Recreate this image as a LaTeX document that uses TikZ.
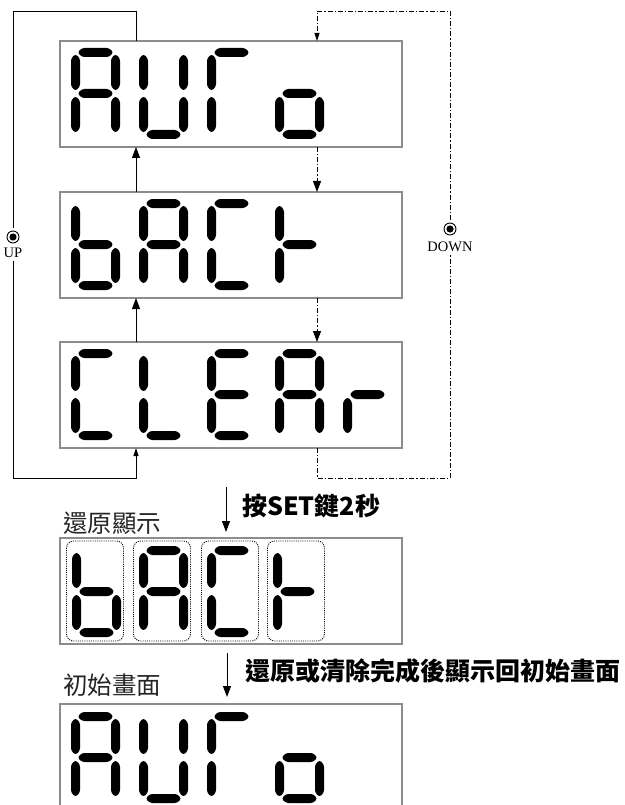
\documentclass[tikz,border=0pt]{standalone}
\usepackage{fontspec}
\newfontfamily\cjk{Noto Sans CJK TC}
\newfontfamily\serifl{Liberation Serif}
\usetikzlibrary{arrows.meta}
% seven-segment helpers (local units: x=1pt, y=-1pt, origin = digit top-left)
\newcommand{\HSegm}[1]{\fill[segfill] (6.5,#1+4.5) -- (11,#1) -- (38,#1) -- (42.5,#1+4.5) -- (38,#1+9) -- (11,#1+9) -- cycle;}
\newcommand{\VSegm}[3]{\fill[segfill] (#1+4.5,#2) -- (#1+9,#2+4.5) -- (#1+9,#3-4.5) -- (#1+4.5,#3) -- (#1,#3-4.5) -- (#1,#2+4.5) -- cycle;}
\newcommand{\SegDrawa}{\HSegm{0}}
\newcommand{\SegDrawg}{\HSegm{41}}
\newcommand{\SegDrawd}{\HSegm{82}}
\newcommand{\SegDrawf}{\VSegm{0}{6}{43}}
\newcommand{\SegDrawb}{\VSegm{40}{6}{43}}
\newcommand{\SegDrawe}{\VSegm{0}{48}{85}}
\newcommand{\SegDrawc}{\VSegm{40}{48}{85}}
\newcommand{\SevSegDigit}[3]{\begin{scope}[shift={(#1,#2)}]\foreach \s in {#3}{\csname SegDraw\s\endcsname}\end{scope}}
\begin{document}
\begin{tikzpicture}[x=1pt,y=-1pt,
  dispbox/.style={draw=black!45, line width=1.2pt, minimum width=342pt, minimum height=106pt, inner sep=0pt, outer sep=0pt},
  conn/.style={line width=0.9pt, draw=black},
  ddash/.style={conn, dash pattern=on 5pt off 2pt on 1.2pt off 2pt},
  bigtip/.style={-{Triangle[length=11pt,width=8pt]}},
  smalltip/.style={-{Triangle[length=8pt,width=5pt]}},
  segfill/.style={fill=black, rounded corners=2.5pt},
  digitframe/.style={draw=black, dash pattern=on 1pt off 1.2pt, line width=0.9pt, rounded corners=7pt},
  keysym/.style={circle, draw, line width=0.9pt, minimum size=12pt, inner sep=0pt, outer sep=3pt, path picture={\fill (path picture bounding box.center) circle (3.6pt);}},
  keylabel/.style={font=\serifl\fontsize{14.5}{16}\selectfont, inner sep=1.5pt, outer sep=2pt},
  cjkbold/.style={font=\cjk\bfseries\fontsize{25}{28}\selectfont, inner sep=0pt, anchor=base west},
  cjkreg/.style={font=\cjk\fontsize{24.5}{28}\selectfont, text=black!85, inner sep=0pt, anchor=base west},
]
\fill[white] (0,0) rectangle (624,805);
\useasboundingbox (0,0) rectangle (624,805);

% display boxes
\node[dispbox] (b1) at (231,94) {};
\node[dispbox] (b2) at (231,245) {};
\node[dispbox] (b3) at (231,395) {};
\node[dispbox] (b4) at (231,591) {};
\node[dispbox] (b5) at (231,757) {};

% box 1: AUTo
\SevSegDigit{71}{48}{a,b,c,e,f,g}
\SevSegDigit{139}{48}{b,c,d,e,f}
\SevSegDigit{207}{48}{a,e,f}
\SevSegDigit{275}{48}{c,d,e,g}
% box 2: bACt
\SevSegDigit{71}{199}{c,d,e,f,g}
\SevSegDigit{139}{199}{a,b,c,e,f,g}
\SevSegDigit{207}{199}{a,d,e,f}
\SevSegDigit{275}{199}{e,f,g}
% box 3: CLEAr
\SevSegDigit{71}{349}{a,d,e,f}
\SevSegDigit{139}{349}{d,e,f}
\SevSegDigit{207}{349}{a,d,e,f,g}
\SevSegDigit{275}{349}{a,b,c,e,f,g}
\SevSegDigit{343}{349}{e,g}
% box 4: bACt with dotted frames
\foreach \X in {72,139,207,273}{\draw[digitframe] (\X-5.5,541) rectangle (\X+51.5,641);}
\SevSegDigit{72}{546}{c,d,e,f,g}
\SevSegDigit{139}{546}{a,b,c,e,f,g}
\SevSegDigit{207}{546}{a,d,e,f}
\SevSegDigit{273}{546}{e,f,g}
% box 5: AUTo
\SevSegDigit{71}{712}{a,b,c,e,f,g}
\SevSegDigit{139}{712}{b,c,d,e,f}
\SevSegDigit{207}{712}{a,e,f}
\SevSegDigit{275}{712}{c,d,e,g}

% key symbols
\coordinate (upx) at (136,0);
\coordinate (dnx) at (317,0);
\coordinate (uptop) at (13,11);
\coordinate (upbot) at (13,478);
\coordinate (dntop) at (450,11);
\coordinate (dnbot) at (450,478);
\node[keysym] (upkey) at (13,237) {};
\node[keylabel] (uplab) at (13,253) {UP};
\node[keysym] (dnkey) at (450,229) {};
\node[keylabel] (dnlab) at (450,247) {DOWN};

% UP path (solid)
\draw[conn,bigtip] (b2.north -| upx) -- (b1.south -| upx);
\draw[conn,bigtip] (b3.north -| upx) -- (b2.south -| upx);
\draw[conn] (b1.north -| upx) |- (uptop) -- (upkey);
\draw[conn,smalltip] (uplab) -- (upbot) -| (b3.south -| upx);

% DOWN path (dash-dot)
\draw[ddash,bigtip] (b1.south -| dnx) -- (b2.north -| dnx);
\draw[ddash,bigtip] (b2.south -| dnx) -- (b3.north -| dnx);
\draw[ddash] (b3.south -| dnx) |- (dnbot) -- (dnlab);
\draw[ddash,smalltip] (dnkey) -- (dntop) -| (b1.north -| dnx);

% step arrows
\coordinate (s1a) at (226,487);
\coordinate (s1b) at (226,532);
\coordinate (s2a) at (227,653);
\coordinate (s2b) at (227,697);
\draw[conn,bigtip] (s1a) -- (s1b);
\draw[conn,bigtip] (s2a) -- (s2b);

% texts
\node[cjkbold] (t1) at (242,515) {按SET鍵2秒};
\node[cjkreg] (t2) at (63,532) {還原顯示};
\node[cjkbold] (t3) at (245,680) {還原或清除完成後顯示回初始畫面};
\node[cjkreg] (t4) at (63,694) {初始畫面};
\end{tikzpicture}
\end{document}
